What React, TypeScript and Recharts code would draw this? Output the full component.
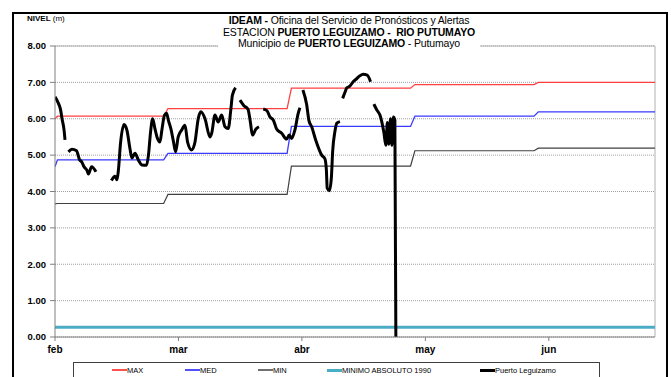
import React from "react";
import {
  LineChart,
  Line,
  XAxis,
  YAxis,
  CartesianGrid,
  ReferenceLine,
} from "recharts";

// x is measured in months from 1 feb (0 = feb, 1 = mar, ...)
const months = ["feb", "mar", "abr", "may", "jun"];
const yTicks = [0, 1, 2, 3, 4, 5, 6, 7, 8];

const maxLevels = [6.07, 6.28, 6.84, 6.94, 7.0];
const medLevels = [4.87, 5.05, 5.79, 6.07, 6.19];
const minLevels = [3.67, 3.92, 4.7, 5.12, 5.19];
const maxFirst = 6.0;
const medFirst = 4.68;
const minFirst = 3.66;
const minimoAbsoluto1990 = 0.27;

// Puerto Leguizamo daily levels, null = no data
const leguizamo: [number, number | null][] = [
  [0.0, 6.6], [0.024, 6.45], [0.045, 6.25], [0.057, 6.0], [0.073, 5.7], [0.081, 5.42],
  [0.095, null],
  [0.109, 5.09], [0.138, 5.16], [0.174, 5.12], [0.198, 4.88], [0.219, 4.8], [0.235, 4.68],
  [0.259, 4.58], [0.271, 4.48], [0.296, 4.68], [0.332, 4.54],
  [0.4, null],
  [0.457, 4.3], [0.486, 4.42], [0.502, 4.32], [0.514, 4.6], [0.53, 5.3], [0.559, 5.84],
  [0.583, 5.68], [0.607, 5.18], [0.623, 4.92], [0.648, 5.05], [0.676, 4.86], [0.704, 4.73],
  [0.741, 4.72], [0.757, 5.0], [0.773, 5.6], [0.791, 6.0], [0.81, 5.72], [0.826, 5.5],
  [0.85, 5.36], [0.866, 5.7], [0.887, 6.1], [0.903, 6.15], [0.919, 5.95], [0.939, 5.72],
  [0.958, 5.4], [0.977, 5.09], [0.998, 5.5], [1.026, 5.69], [1.053, 5.82], [1.074, 5.36],
  [1.107, 5.14], [1.134, 5.36], [1.16, 6.0], [1.182, 6.19], [1.215, 6.0], [1.255, 5.5],
  [1.269, 5.6], [1.296, 6.1], [1.322, 5.91], [1.35, 6.1], [1.377, 5.78], [1.403, 5.73],
  [1.425, 6.28], [1.437, 6.65], [1.463, 6.85],
  [1.48, null],
  [1.498, 6.51], [1.53, 6.36], [1.563, 6.26], [1.583, 5.9], [1.599, 5.55], [1.628, 5.72],
  [1.652, 5.78],
  [1.67, null],
  [1.687, 6.27], [1.717, 6.22], [1.741, 6.05], [1.769, 5.96], [1.795, 5.72], [1.836, 5.6],
  [1.876, 5.44], [1.897, 5.55], [1.917, 5.46], [1.943, 5.69], [1.97, 6.15], [1.984, 6.3],
  [1.996, null],
  [2.008, 6.79], [2.038, 6.4], [2.057, 5.95], [2.079, 5.78], [2.113, 5.4], [2.16, 5.0],
  [2.186, 4.9], [2.198, 4.6], [2.205, 4.09], [2.223, 4.02], [2.239, 4.4], [2.249, 5.1],
  [2.267, 5.64], [2.283, 5.88], [2.308, 5.92],
  [2.32, null],
  [2.33, 6.56], [2.348, 6.72], [2.364, 6.85], [2.389, 6.9], [2.415, 7.02], [2.443, 7.1],
  [2.47, 7.18], [2.496, 7.22], [2.529, 7.2], [2.556, 7.02],
  [2.57, null],
  [2.583, 6.4], [2.607, 6.24], [2.632, 6.1], [2.648, 5.9], [2.664, 5.62], [2.68, 5.27],
  [2.692, 5.9], [2.704, 5.3], [2.718, 6.0], [2.729, 5.27], [2.741, 6.05], [2.753, 5.96],
  [2.761, 0],
];

const X_MAX = 4.86;
const STEP_FROM = 0.12;
const STEP_TO = 0.085;

function stepSeries(first: number, levels: number[]) {
  const pts: { x: number; y: number }[] = [{ x: 0, y: first }, { x: 0.02, y: levels[0] }];
  levels.forEach((v, i) => {
    if (i > 0) pts.push({ x: i - STEP_TO, y: v });
    pts.push({ x: i === levels.length - 1 ? X_MAX : i + 1 - STEP_FROM, y: v });
  });
  return pts;
}

const maxData = stepSeries(maxFirst, maxLevels);
const medData = stepSeries(medFirst, medLevels);
const minData = stepSeries(minFirst, minLevels);
const absData = [
  { x: 0, y: minimoAbsoluto1990 },
  { x: X_MAX, y: minimoAbsoluto1990 },
];
const leguizamoData = leguizamo.map(([x, y]) => ({ x, y }));

const FONT = '"Liberation Sans", Arial, sans-serif';

const legendItems = [
  { label: "MAX", color: "#ff5050", width: 1.5, left: 112 },
  { label: "MED", color: "#5050ff", width: 1.5, left: 185 },
  { label: "MIN", color: "#707070", width: 1.5, left: 258 },
  { label: "MINIMO ABSOLUTO 1990", color: "#4bacc6", width: 3, left: 327 },
  { label: "Puerto Leguizamo", color: "#000", width: 3, left: 480 },
];

export default function App() {
  return (
    <div
      style={{
        position: "absolute",
        left: 0,
        top: 0,
        width: 671,
        height: 377,
        overflow: "hidden",
        background: "#fff",
        fontFamily: FONT,
      }}
    >
      <div
        style={{
          position: "absolute",
          left: 12,
          top: 12,
          width: 652,
          height: 400,
          border: "2px solid #000",
        }}
      />
      <LineChart
        width={671}
        height={377}
        margin={{ top: 46, right: 16, bottom: 10, left: 5 }}
        style={{ position: "absolute", left: 0, top: 0 }}
      >
        <CartesianGrid
          horizontal
          vertical={false}
          stroke="#a0a0a0"
          strokeDasharray="1 1"
        />
        <XAxis
          type="number"
          dataKey="x"
          domain={[0, X_MAX]}
          ticks={[0, 1, 2, 3, 4]}
          tickFormatter={(v: number) => months[v]}
          allowDataOverflow
          height={30}
          stroke="#808080"
          tickSize={4}
          tickMargin={5}
          tick={{ fontSize: 10, fontWeight: "bold", fill: "#000", fontFamily: FONT }}
        />
        <YAxis
          type="number"
          domain={[0, 8]}
          ticks={yTicks}
          tickFormatter={(v: number) => v.toFixed(2)}
          width={50}
          stroke="#808080"
          tickSize={5}
          tickMargin={4}
          tick={{ fontSize: 9.5, fontWeight: "bold", fill: "#000", fontFamily: FONT }}
        />
        <ReferenceLine y={8} stroke="#b0b0b0" />
        <ReferenceLine x={X_MAX} stroke="#b0b0b0" />
        <Line data={absData} dataKey="y" stroke="#4bacc6" strokeWidth={3} dot={false} isAnimationActive={false} />
        <Line data={minData} dataKey="y" stroke="#404040" strokeWidth={1.2} dot={false} isAnimationActive={false} />
        <Line data={medData} dataKey="y" stroke="#3a3aff" strokeWidth={1.3} dot={false} isAnimationActive={false} />
        <Line data={maxData} dataKey="y" stroke="#ff4040" strokeWidth={1.3} dot={false} isAnimationActive={false} />
        <Line
          data={leguizamoData}
          dataKey="y"
          type="monotone"
          stroke="#000"
          strokeWidth={3}
          dot={false}
          connectNulls={false}
          isAnimationActive={false}
        />
      </LineChart>

      <div
        style={{
          position: "absolute",
          left: 218,
          top: 15,
          width: 262,
          height: 33,
          background: "#fff",
          textAlign: "center",
          fontSize: 10.5,
          lineHeight: "11.5px",
          letterSpacing: -0.15,
          whiteSpace: "nowrap",
          color: "#000",
        }}
      >
        <div>
          <b>IDEAM - </b>Oficina del Servicio de Pronósticos y Alertas
        </div>
        <div>
          ESTACION <b>PUERTO LEGUIZAMO - &nbsp;RIO PUTUMAYO</b>
        </div>
        <div>
          Municipio de <b>PUERTO LEGUIZAMO</b> - Putumayo
        </div>
      </div>

      <div
        style={{
          position: "absolute",
          left: 27,
          top: 14,
          fontSize: 8,
          color: "#000",
          whiteSpace: "nowrap",
        }}
      >
        <b>NIVEL</b> (m)
      </div>

      <div
        style={{
          position: "absolute",
          left: 73,
          top: 362,
          width: 527,
          height: 30,
          border: "1px solid #404040",
          boxSizing: "border-box",
        }}
      />
      {legendItems.map((it) => (
        <div
          key={it.label}
          style={{
            position: "absolute",
            left: it.left,
            top: 365,
            height: 10,
            display: "flex",
            alignItems: "center",
            fontSize: 7.5,
            whiteSpace: "nowrap",
            color: "#000",
          }}
        >
          <span
            style={{
              display: "inline-block",
              width: 15,
              height: it.width,
              background: it.color,
            }}
          />
          <span>{it.label}</span>
        </div>
      ))}
    </div>
  );
}
